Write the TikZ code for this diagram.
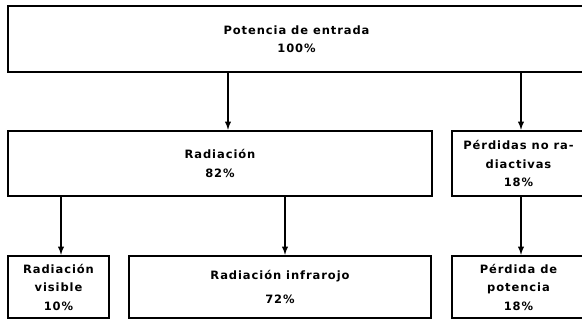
\documentclass[tikz,border=0pt]{standalone}
\usepackage{fontspec}
\setmainfont{DejaVu Sans}[LetterSpace=8,UprightFont=* Bold]
\usepackage{tikz}
\usetikzlibrary{arrows,positioning}
\tikzset{>=latex}
\tikzset{box node/.style={draw,line width=1.5pt,inner sep=0pt,align=center,
            font=\fontsize{11.5}{18.5}\selectfont},
         flow/.style={draw,line width=1.8pt,->,shorten >=0.5pt},
            }

\begin{document}
\begin{tikzpicture}[x=1pt,y=-1pt]

    \clip (0,0) rectangle (582,321);

    \node[box node,minimum width=577pt,minimum height=66pt] (entrada) at (296.5,39) {Potencia de entrada\\100\%};

    \node[box node,minimum width=424pt,minimum height=65pt] (radiacion) at (220,163.5) {Radiación\\82\%};
    \node[box node,minimum width=133pt,minimum height=65pt] (perdidas) at (518.5,163.5) {Pérdidas no ra-\\diactivas\\18\%};

    \node[box node,minimum width=101pt,minimum height=62pt] (visible) at (58.5,287) {Radiación\\visible\\10\%};
    \node[box node,minimum width=302pt,minimum height=62pt] (infrarojo) at (280,287) {Radiación infrarojo\\[5pt]72\%};
    \node[box node,minimum width=133pt,minimum height=62pt] (potencia) at (518.5,287) {Pérdida de\\potencia\\18\%};

    % entry points of the arrows
    \coordinate (radiacion in) at ([xshift=8pt]radiacion.north);
    \coordinate (perdidas in) at ([xshift=2.5pt]perdidas.north);
    \coordinate (perdidas out) at ([xshift=2.5pt]perdidas.south);
    \coordinate (visible in) at ([xshift=2.5pt]visible.north);
    \coordinate (infrarojo in) at ([xshift=5pt]infrarojo.north);
    \coordinate (potencia in) at ([xshift=2.5pt]potencia.north);

    \draw[flow] (entrada.south -| radiacion in) -- (radiacion in);
    \draw[flow] (entrada.south -| perdidas in) -- (perdidas in);
    \draw[flow] (radiacion.south -| visible in) -- (visible in);
    \draw[flow] (radiacion.south -| infrarojo in) -- (infrarojo in);
    \draw[flow] (perdidas out) -- (potencia in);

\end{tikzpicture}
\end{document}
